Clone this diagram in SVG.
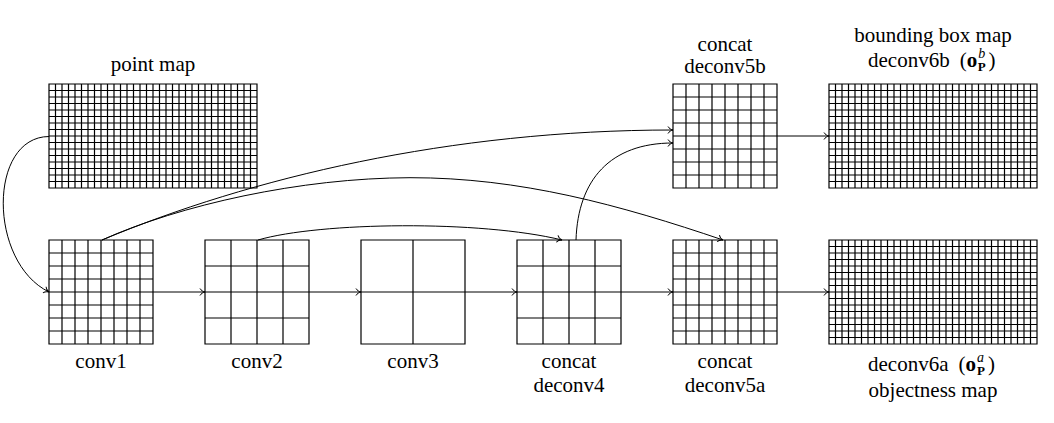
<svg xmlns="http://www.w3.org/2000/svg" width="1054" height="423" viewBox="0 0 1054 423">
<style>
.grid{fill:none;stroke:#000;stroke-width:1.2}
.conn{fill:none;stroke:#000;stroke-width:1}
text{font-family:'Liberation Serif','DejaVu Serif',serif;font-size:21px;fill:#000}
.lbl{text-anchor:middle}
.bo{font-weight:bold}
.sup{font-size:14px;font-style:italic}
.sub{font-size:13px;font-weight:bold}
</style>
<defs>
<marker id="arr" viewBox="-6 -5 8 10" markerWidth="8" markerHeight="10" refX="0" refY="0" orient="auto" markerUnits="userSpaceOnUse">
<path d="M-5,-3.5C-4,-1.5 -1.5,-0.3 0,0C-1.5,0.3 -4,1.5 -5,3.5" fill="none" stroke="#000" stroke-width="1"/>
</marker>
<path id="g32" class="grid" d="M0,0h208v104h-208z M6.5,0v104m6.5-104v104m6.5-104v104m6.5-104v104m6.5-104v104m6.5-104v104m6.5-104v104m6.5-104v104m6.5-104v104m6.5-104v104m6.5-104v104m6.5-104v104m6.5-104v104m6.5-104v104m6.5-104v104m6.5-104v104m6.5-104v104m6.5-104v104m6.5-104v104m6.5-104v104m6.5-104v104m6.5-104v104m6.5-104v104m6.5-104v104m6.5-104v104m6.5-104v104m6.5-104v104m6.5-104v104m6.5-104v104m6.5-104v104m6.5-104v104 M0,6.5h208m-208,6.5h208m-208,6.5h208m-208,6.5h208m-208,6.5h208m-208,6.5h208m-208,6.5h208m-208,6.5h208m-208,6.5h208m-208,6.5h208m-208,6.5h208m-208,6.5h208m-208,6.5h208m-208,6.5h208m-208,6.5h208"/>
<path id="g8" class="grid" d="M0,0h104v104h-104z M13,0v104m13-104v104m13-104v104m13-104v104m13-104v104m13-104v104m13-104v104 M0,13h104m-104,13h104m-104,13h104m-104,13h104m-104,13h104m-104,13h104m-104,13h104"/>
<path id="g4" class="grid" d="M0,0h104v104h-104z M26,0v104m26-104v104m26-104v104 M0,26h104m-104,26h104m-104,26h104"/>
<path id="g2" class="grid" d="M0,0h104v104h-104z M52,0v104 M0,52h104"/>
</defs>
<rect width="1054" height="423" fill="#fff"/>

<g id="pointmap">
<use href="#g32" x="49" y="84"/>
<text class="lbl" x="153" y="71">point map</text>
</g>
<g id="conv1">
<use href="#g8" x="49" y="240"/>
<text class="lbl" x="101" y="368">conv1</text>
</g>
<g id="conv2">
<use href="#g4" x="205" y="240"/>
<text class="lbl" x="257" y="368">conv2</text>
</g>
<g id="conv3">
<use href="#g2" x="361" y="240"/>
<text class="lbl" x="413" y="368">conv3</text>
</g>
<g id="deconv4">
<use href="#g4" x="517" y="240"/>
<text class="lbl" x="569" y="368">concat</text>
<text class="lbl" x="569" y="392">deconv4</text>
</g>
<g id="deconv5a">
<use href="#g8" x="673" y="240"/>
<text class="lbl" x="725" y="368">concat</text>
<text class="lbl" x="725" y="392">deconv5a</text>
</g>
<g id="deconv5b">
<use href="#g8" x="673" y="84"/>
<text class="lbl" x="725" y="51">concat</text>
<text class="lbl" x="725" y="73">deconv5b</text>
</g>
<g id="deconv6b">
<use href="#g32" x="829" y="84"/>
<text class="lbl" x="933" y="42">bounding box map</text>
<text x="868" y="67">deconv6b<tspan dx="10">(</tspan><tspan class="bo">o</tspan><tspan class="sup" dx="1" dy="-9">b</tspan><tspan class="sub" dx="-7.5" dy="13">P</tspan><tspan dx="3" dy="-4">)</tspan></text>
</g>
<g id="deconv6a">
<use href="#g32" x="829" y="240"/>
<text x="868" y="371">deconv6a<tspan dx="10">(</tspan><tspan class="bo">o</tspan><tspan class="sup" dx="1" dy="-9">a</tspan><tspan class="sub" dx="-7" dy="13">P</tspan><tspan dx="3" dy="-4">)</tspan></text>
<text class="lbl" x="933" y="397">objectness map</text>
</g>

<g id="connectors" class="conn" marker-end="url(#arr)">
<path d="M49,136.5C-12,137 -12,262 49,292"/>
<path d="M153,292H205"/>
<path d="M309,292H361"/>
<path d="M465,292H517"/>
<path d="M621,292H673"/>
<path d="M777,292H829"/>
<path d="M777,136H829"/>
<path d="M102,240C250,178 450,130 673,130"/>
<path d="M102,240C180,205 300,178 410,177.7C520,177.5 620,205 723,240"/>
<path d="M258,240C320,222 480,220 562,240"/>
<path d="M576,240C578,180 610,143 673,143"/>
</g>
</svg>
